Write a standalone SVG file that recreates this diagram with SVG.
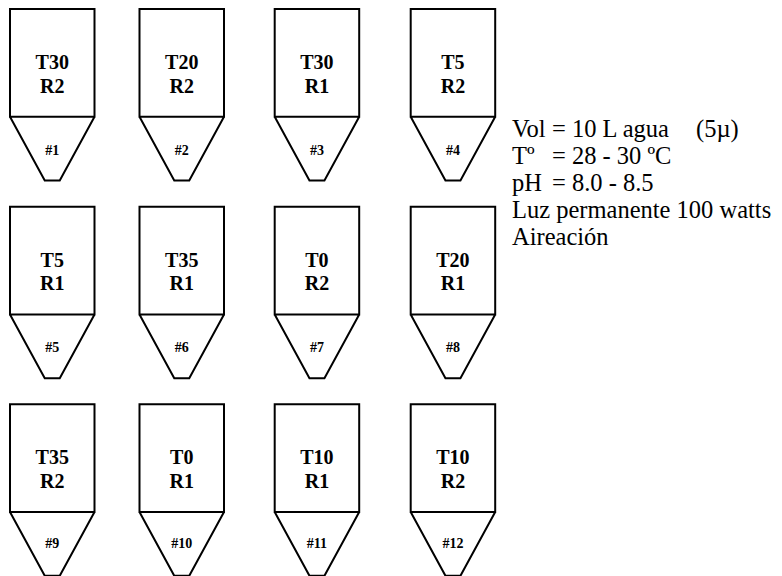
<svg xmlns="http://www.w3.org/2000/svg" width="782" height="576" viewBox="0 0 782 576">
<style>
.tank{fill:none;stroke:#000;stroke-width:2;stroke-linejoin:miter}
.lbl{font-family:"Liberation Serif","Times New Roman","DejaVu Serif",serif;font-weight:bold;font-size:20px;text-anchor:middle;fill:#000}
.num{font-family:"Liberation Serif","Times New Roman","DejaVu Serif",serif;font-weight:bold;font-size:14px;text-anchor:middle;fill:#000}
.info{font-family:"Liberation Serif","Times New Roman","DejaVu Serif",serif;font-size:24.5px;fill:#000}
</style>
<defs>
<path id="tankShape" class="tank" d="M0,0 H84.5 V107.7 H0 Z M0,107.7 L34.75,171.5 H49.75 L84.5,107.7"/>
</defs>
<rect width="782" height="576" fill="#fff"/>

<g id="tank1" transform="translate(10,9)"><use href="#tankShape"/><text class="lbl" x="42.25" y="60.3">T30</text><text class="lbl" x="42.25" y="83.7">R2</text><text class="num" x="42.25" y="146">#1</text></g>
<g id="tank2" transform="translate(139.5,9)"><use href="#tankShape"/><text class="lbl" x="42.25" y="60.3">T20</text><text class="lbl" x="42.25" y="83.7">R2</text><text class="num" x="42.25" y="146">#2</text></g>
<g id="tank3" transform="translate(274.7,9)"><use href="#tankShape"/><text class="lbl" x="42.25" y="60.3">T30</text><text class="lbl" x="42.25" y="83.7">R1</text><text class="num" x="42.25" y="146">#3</text></g>
<g id="tank4" transform="translate(410.7,9)"><use href="#tankShape"/><text class="lbl" x="42.25" y="60.3">T5</text><text class="lbl" x="42.25" y="83.7">R2</text><text class="num" x="42.25" y="146">#4</text></g>

<g id="tank5" transform="translate(10,206.7)"><use href="#tankShape"/><text class="lbl" x="42.25" y="60">T5</text><text class="lbl" x="42.25" y="83.5">R1</text><text class="num" x="42.25" y="145.6">#5</text></g>
<g id="tank6" transform="translate(139.5,206.7)"><use href="#tankShape"/><text class="lbl" x="42.25" y="60">T35</text><text class="lbl" x="42.25" y="83.5">R1</text><text class="num" x="42.25" y="145.6">#6</text></g>
<g id="tank7" transform="translate(274.7,206.7)"><use href="#tankShape"/><text class="lbl" x="42.25" y="60">T0</text><text class="lbl" x="42.25" y="83.5">R2</text><text class="num" x="42.25" y="145.6">#7</text></g>
<g id="tank8" transform="translate(410.7,206.7)"><use href="#tankShape"/><text class="lbl" x="42.25" y="60">T20</text><text class="lbl" x="42.25" y="83.5">R1</text><text class="num" x="42.25" y="145.6">#8</text></g>

<g id="tank9" transform="translate(10,404.3)"><use href="#tankShape"/><text class="lbl" x="42.25" y="60">T35</text><text class="lbl" x="42.25" y="84">R2</text><text class="num" x="42.25" y="143.8">#9</text></g>
<g id="tank10" transform="translate(139.5,404.3)"><use href="#tankShape"/><text class="lbl" x="42.25" y="60">T0</text><text class="lbl" x="42.25" y="84">R1</text><text class="num" x="42.25" y="143.8">#10</text></g>
<g id="tank11" transform="translate(274.7,404.3)"><use href="#tankShape"/><text class="lbl" x="42.25" y="60">T10</text><text class="lbl" x="42.25" y="84">R1</text><text class="num" x="42.25" y="143.8">#11</text></g>
<g id="tank12" transform="translate(410.7,404.3)"><use href="#tankShape"/><text class="lbl" x="42.25" y="60">T10</text><text class="lbl" x="42.25" y="84">R2</text><text class="num" x="42.25" y="143.8">#12</text></g>

<g id="conditions">
<text class="info" y="137"><tspan x="512">Vol</tspan><tspan x="552">= 10 L agua</tspan><tspan x="696">(5µ)</tspan></text>
<text class="info" y="164"><tspan x="512">Tº</tspan><tspan x="552">= 28 - 30 ºC</tspan></text>
<text class="info" y="191"><tspan x="512">pH</tspan><tspan x="552">= 8.0 - 8.5</tspan></text>
<text class="info" x="512" y="218">Luz permanente 100 watts</text>
<text class="info" x="512" y="245">Aireación</text>
</g>
<g id="connectors"></g>
</svg>
